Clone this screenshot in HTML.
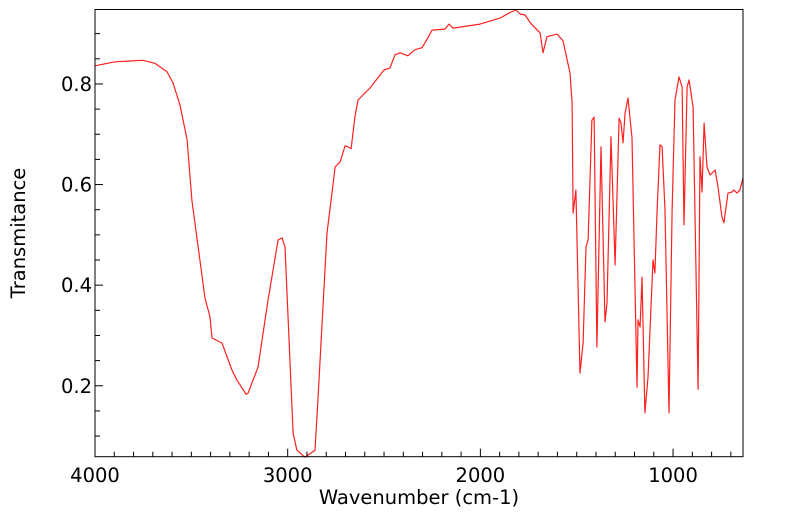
<!DOCTYPE html>
<html><head><meta charset="utf-8"><style>
body{margin:0;background:#fff;}
svg{display:block;font-family:"DejaVu Sans","Liberation Sans",sans-serif;}
</style></head><body>
<svg id="chart" width="799" height="516"></svg>
<script>
const wavenumbers=[4000,3896,3751,3689,3626,3595,3559,3522,3497,3429,3403,3393,3341,3289,3263,3216,3206,3154,3102,3050,3029,3014,2972,2952,2910,2858,2843,2796,2770,2754,2728,2702,2687,2671,2651,2635,2573,2500,2469,2443,2417,2376,2339,2303,2272,2251,2184,2163,2142,2002,1898,1841,1815,1794,1768,1742,1690,1675,1654,1602,1576,1571,1535,1524,1519,1504,1483,1467,1452,1441,1421,1410,1395,1374,1353,1343,1322,1301,1280,1270,1260,1249,1234,1213,1187,1182,1171,1161,1146,1130,1104,1094,1083,1068,1057,1042,1021,1005,990,969,953,943,927,917,896,870,860,850,839,824,808,782,767,746,736,715,694,684,668,653,637];
const transmittance=[0.836,0.844,0.847,0.841,0.824,0.802,0.758,0.689,0.569,0.374,0.337,0.295,0.285,0.231,0.211,0.183,0.185,0.237,0.370,0.490,0.494,0.476,0.106,0.072,0.058,0.072,0.171,0.504,0.583,0.635,0.645,0.677,0.675,0.671,0.734,0.768,0.792,0.828,0.832,0.858,0.862,0.856,0.868,0.872,0.892,0.907,0.909,0.919,0.911,0.919,0.931,0.943,0.947,0.939,0.937,0.922,0.901,0.862,0.894,0.899,0.888,0.886,0.822,0.762,0.543,0.589,0.225,0.285,0.476,0.490,0.728,0.734,0.277,0.675,0.327,0.364,0.695,0.440,0.732,0.722,0.683,0.742,0.772,0.693,0.197,0.331,0.317,0.416,0.146,0.217,0.450,0.424,0.549,0.679,0.675,0.549,0.146,0.549,0.768,0.814,0.794,0.520,0.794,0.808,0.754,0.193,0.655,0.585,0.722,0.635,0.619,0.629,0.595,0.535,0.524,0.583,0.585,0.589,0.583,0.589,0.613];
const xTicks=[4000,3000,2000,1000];
const yTicks=[0.2,0.4,0.6,0.8];
const X0=95,X1=743,Y0=9.5,Y1=456.7;
const xMin=4000,xMax=637,yMin=0.059,yMax=0.948;
const sx=v=>X0+(xMin-v)/(xMin-xMax)*(X1-X0);
const sy=v=>Y1-(v-yMin)/(yMax-yMin)*(Y1-Y0);
const svg=document.getElementById('chart');
const NS='http://www.w3.org/2000/svg';
function mk(t,a){const e=document.createElementNS(NS,t);for(const k in a)e.setAttribute(k,a[k]);svg.appendChild(e);return e;}
let d='';
wavenumbers.forEach((w,i)=>{d+=(i?'L':'M')+sx(w).toFixed(1)+' '+sy(transmittance[i]).toFixed(1);});
const line=mk('path',{d:d,fill:'none',stroke:'#ff2020','stroke-width':1.2,'stroke-linejoin':'round'});


const frame=mk('rect',{x:X0,y:Y0,width:X1-X0,height:Y1-Y0,fill:'none',stroke:'#000','stroke-width':1});


for(let w=4000;w>=xMax;w-=100){const major=w%1000===0;const t=mk('line',{x1:sx(w),x2:sx(w),y1:Y1,y2:Y1-(major?8:5),stroke:'#000'});

}
for(let v=0.1;v<yMax;v+=0.05){const vv=Math.round(v*100)/100;const major=Math.abs(vv*10-Math.round(vv*10))<1e-6&&Math.round(vv*10)%2===0;const t=mk('line',{x1:X0,x2:X0+(major?8:5),y1:sy(vv),y2:sy(vv),stroke:'#000'});

}
xTicks.forEach(w=>{const t=mk('text',{x:sx(w),y:482,'text-anchor':'middle','font-size':19.5});t.textContent=String(w);

});
yTicks.forEach(v=>{const t=mk('text',{x:92,y:sy(v)+7,'text-anchor':'end','font-size':19.5});t.textContent=v.toFixed(1);

});
const xt=mk('text',{x:419,y:504,'text-anchor':'middle','font-size':19.5});xt.textContent='Wavenumber (cm-1)';


const yt=mk('text',{x:25,y:233,'text-anchor':'middle','font-size':19.5,transform:'rotate(-90 25 233)'});yt.textContent='Transmitance';


</script>
</body></html>
